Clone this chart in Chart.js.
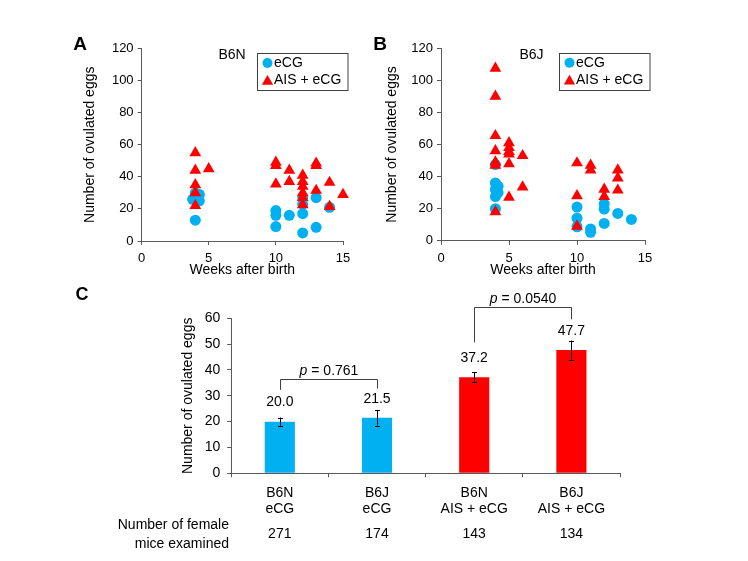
<!DOCTYPE html>
<html><head><meta charset="utf-8">
<script src="https://cdn.jsdelivr.net/npm/chart.js@4.4.1/dist/chart.umd.min.js"></script>
<style>
html,body{margin:0;padding:0;background:#fff;}
#wrap{position:relative;width:748px;height:561px;overflow:hidden;background:#fff;}
canvas{position:absolute;left:0;top:0;}
</style></head><body>
<div id="wrap">
<canvas id="cA" width="748" height="561"></canvas>
<canvas id="cB" width="748" height="561"></canvas>
<canvas id="cC" width="748" height="561"></canvas>
</div>
<script>
// ---------- data ----------
const seriesNames = ['eCG', 'AIS + eCG'];
const xTitleScatter = 'Weeks after birth';
const yTitle = 'Number of ovulated eggs';
const panelLetters = ['A', 'B', 'C'];
const strainNames = ['B6N', 'B6J'];

// Panel A (B6N)
const b6nEcgWeeks = [4, 4.3, 3.8, 4.3, 4, 4, 10, 10, 10, 11, 12, 12, 12, 12, 13, 13, 14];
const b6nEcgEggs  = [30, 29, 26, 25, 27, 13, 19, 16, 9, 16, 27, 23, 17, 5, 27, 8.5, 21];
const b6nAisWeeks = [4, 4, 4, 4, 4, 5, 10, 10, 10, 11, 11, 12, 12, 12, 12, 12, 12, 13, 13, 13, 14, 14, 15];
const b6nAisEggs  = [55, 44, 35, 30, 22, 45, 49, 47, 35.5, 44, 37, 41, 37, 34, 30, 27, 22.5, 48.5, 47, 31.5, 36.5, 21.5, 29];

// Panel B (B6J)
const b6jEcgWeeks = [4, 4, 4.2, 4, 4.2, 4, 4, 10, 10, 10, 11, 11, 12, 12, 12, 13, 14];
const b6jEcgEggs  = [47.5, 36, 34, 32, 30, 27.5, 20, 21, 14, 8.7, 7.3, 5.2, 23, 19.7, 10.8, 17, 13.3];
const b6jAisWeeks = [4, 4, 4, 4, 4, 4, 4, 5, 5, 5, 5, 5, 5, 6, 6, 10, 10, 10, 11, 11, 12, 12, 13, 13, 13];
const b6jAisEggs  = [107.5, 90, 65.5, 56, 49, 47, 18, 61, 58, 55.5, 54, 48, 27, 53, 33.5, 48.5, 28, 9, 47, 44, 32, 27.5, 44, 39, 31.5];

// Panel C
const groupLabels = [['B6N', 'eCG'], ['B6J', 'eCG'], ['B6N', 'AIS + eCG'], ['B6J', 'AIS + eCG']];
const meanEggs = [20.0, 21.5, 37.2, 47.7];
const semEggs = [1.6, 3.0, 2.0, 3.7];
const miceCounts = [271, 174, 143, 134];
const miceRowLabel = ['Number of female', 'mice examined'];
const pValues = ['0.761', '0.0540'];
const pPairs = [[0, 1], [2, 3]];
const pLevels = [36.5, 64.3];
const pDrops = [[32.3, 32.8], [50.7, 59.6]];

// ---------- styles ----------
const FONT = "'Liberation Sans', Arial, Helvetica, sans-serif";
const AXIS = '#595959';
const BLUE = '#00B0F0';
const RED = '#FF0000';
const barColors = [BLUE, BLUE, RED, RED];

function pts(xs, ys) { return xs.map((x, i) => ({ x: x, y: ys[i] })); }

function drawMarker(ctx, style, x, y, r, color) {
  ctx.save();
  ctx.fillStyle = color;
  ctx.beginPath();
  if (style === 'circle') {
    ctx.arc(x, y, r, 0, Math.PI * 2);
  } else {
    ctx.moveTo(x, y - r);
    ctx.lineTo(x + r * 0.866, y + r * 0.5);
    ctx.lineTo(x - r * 0.866, y + r * 0.5);
    ctx.closePath();
  }
  ctx.fill();
  ctx.restore();
}

function scatterOverlay(letter, subtitle, letterPos) {
  return {
    id: 'overlay' + letter,
    afterDraw(chart) {
      const ctx = chart.ctx;
      const a = chart.chartArea;
      ctx.save();
      ctx.fillStyle = '#000';
      ctx.textBaseline = 'middle';
      ctx.textAlign = 'center';
      ctx.font = 'bold 19px ' + FONT;
      ctx.fillText(letter, letterPos[0], letterPos[1]);
      ctx.font = '14px ' + FONT;
      ctx.fillText(subtitle, a.left + 90.5, a.top + 6.5);
      // legend
      const bx = a.right - 86, by = a.top + 4.5, bw = 90.5, bh = 37;
      ctx.strokeStyle = '#404040';
      ctx.lineWidth = 1;
      ctx.strokeRect(Math.round(bx) + 0.5, Math.round(by) + 0.5, bw, bh);
      const ds = chart.data.datasets;
      ds.forEach((d, i) => {
        const ry = by + 10 + i * 17.4;
        drawMarker(ctx, d.pointStyle, bx + 10.5, ry + (d.pointStyle === 'triangle' ? 1 : 0), d.pointStyle === 'circle' ? 5 : 6.5, d.backgroundColor);
        ctx.fillStyle = '#000';
        ctx.textAlign = 'left';
        ctx.font = '14px ' + FONT;
        ctx.fillText(d.label, bx + 17, ry);
      });
      ctx.restore();
    }
  };
}

function scatterConfig(o) {
  return {
    type: 'scatter',
    data: {
      datasets: [
        { label: seriesNames[0], data: pts(o.ecgW, o.ecgE), pointStyle: 'circle', pointRadius: 5.5,
          backgroundColor: BLUE, borderWidth: 0, order: 1, clip: false },
        { label: seriesNames[1], data: pts(o.aisW, o.aisE), pointStyle: 'triangle', pointRadius: 6.8,
          backgroundColor: RED, borderWidth: 0, order: 0, clip: false }
      ]
    },
    options: {
      responsive: false, animation: false, devicePixelRatio: 1, events: [],
      layout: { padding: o.padding },
      plugins: { legend: { display: false }, tooltip: { enabled: false } },
      scales: {
        x: {
          type: 'linear', min: 0, max: 15,
          ticks: { stepSize: 5, color: '#000', font: { family: FONT, size: 13 }, padding: 6 },
          grid: { display: true, drawOnChartArea: false, drawTicks: true, tickLength: 4, color: AXIS },
          border: { display: true, color: AXIS, width: 1 },
          title: { display: true, text: xTitleScatter, color: '#000', font: { family: FONT, size: 14 }, padding: 0 },
          afterFit: s => { s.height = 38; }
        },
        y: {
          min: 0, max: 120,
          ticks: { stepSize: 20, color: '#000', font: { family: FONT, size: 13 }, padding: 4 },
          grid: { display: true, drawOnChartArea: false, drawTicks: true, tickLength: 4, color: AXIS },
          border: { display: true, color: AXIS, width: 1 },
          title: { display: true, text: yTitle, color: '#000', font: { family: FONT, size: 14 }, padding: 0 },
          afterFit: s => { s.width = o.yWidth; }
        }
      }
    },
    plugins: [scatterOverlay(o.letter, o.subtitle, o.letterPos)]
  };
}

new Chart(document.getElementById('cA'), scatterConfig({
  ecgW: b6nEcgWeeks, ecgE: b6nEcgEggs, aisW: b6nAisWeeks, aisE: b6nAisEggs,
  padding: { left: 81.6, right: 405, top: 48.5, bottom: 282 }, yWidth: 60,
  letter: panelLetters[0], subtitle: strainNames[0], letterPos: [80, 45]
}));

new Chart(document.getElementById('cB'), scatterConfig({
  ecgW: b6jEcgWeeks, ecgE: b6jEcgEggs, aisW: b6jAisWeeks, aisE: b6jAisEggs,
  padding: { left: 383.6, right: 103, top: 48.3, bottom: 282.3 }, yWidth: 57.4,
  letter: panelLetters[1], subtitle: strainNames[1], letterPos: [380, 45]
}));

// ---------- Panel C ----------
const barOverlay = {
  id: 'barOverlay',
  afterDraw(chart) {
    const ctx = chart.ctx;
    const y = chart.scales.y;
    const meta = chart.getDatasetMeta(0);
    ctx.save();
    // error bars
    ctx.strokeStyle = '#000';
    ctx.lineWidth = 1;
    meta.data.forEach((bar, i) => {
      const x = Math.round(bar.x) + 0.5;
      const yt = y.getPixelForValue(meanEggs[i] + semEggs[i]);
      const yb = y.getPixelForValue(meanEggs[i] - semEggs[i]);
      ctx.beginPath();
      ctx.moveTo(x, yt); ctx.lineTo(x, yb);
      ctx.moveTo(x - 2.5, Math.round(yt) + 0.5); ctx.lineTo(x + 2.5, Math.round(yt) + 0.5);
      ctx.moveTo(x - 2.5, Math.round(yb) + 0.5); ctx.lineTo(x + 2.5, Math.round(yb) + 0.5);
      ctx.stroke();
    });
    // value labels
    ctx.fillStyle = '#000';
    ctx.font = '14px ' + FONT;
    ctx.textAlign = 'center';
    ctx.textBaseline = 'middle';
    meta.data.forEach((bar, i) => {
      ctx.fillText(meanEggs[i].toFixed(1), bar.x, y.getPixelForValue(meanEggs[i]) - 19);
    });
    // p-value brackets
    ctx.strokeStyle = '#404040';
    pPairs.forEach((pair, k) => {
      const x1 = Math.round(meta.data[pair[0]].x) + 0.5;
      const x2 = Math.round(meta.data[pair[1]].x) + 0.5;
      const yl = Math.round(y.getPixelForValue(pLevels[k])) + 0.5;
      ctx.beginPath();
      ctx.moveTo(x1, y.getPixelForValue(pDrops[k][0]));
      ctx.lineTo(x1, yl);
      ctx.lineTo(x2, yl);
      ctx.lineTo(x2, y.getPixelForValue(pDrops[k][1]));
      ctx.stroke();
      const rest = ' = ' + pValues[k];
      ctx.font = 'italic 14px ' + FONT;
      const wp = ctx.measureText('p').width;
      ctx.font = '14px ' + FONT;
      const wr = ctx.measureText(rest).width;
      const sx = (x1 + x2) / 2 - (wp + wr) / 2;
      const ty = yl - 8.5;
      ctx.textAlign = 'left';
      ctx.font = 'italic 14px ' + FONT;
      ctx.fillText('p', sx, ty);
      ctx.font = '14px ' + FONT;
      ctx.fillText(rest, sx + wp, ty);
    });
    // mice counts row
    ctx.textAlign = 'right';
    ctx.fillText(miceRowLabel[0], 229, 525);
    ctx.fillText(miceRowLabel[1], 229, 544.5);
    ctx.textAlign = 'center';
    meta.data.forEach((bar, i) => {
      ctx.fillText(String(miceCounts[i]), bar.x, 534.5);
    });
    // panel letter
    ctx.font = 'bold 18px ' + FONT;
    ctx.fillText(panelLetters[2], 82, 295.5);
    ctx.restore();
  }
};

new Chart(document.getElementById('cC'), {
  type: 'bar',
  data: {
    labels: groupLabels,
    datasets: [{ data: meanEggs, backgroundColor: barColors, borderWidth: 0,
                 barPercentage: 0.31, categoryPercentage: 1 }]
  },
  options: {
    responsive: false, animation: false, devicePixelRatio: 1, events: [],
    layout: { padding: { left: 179.4, right: 128, top: 318.3, bottom: 37.7 } },
    plugins: { legend: { display: false }, tooltip: { enabled: false } },
    scales: {
      x: {
        ticks: { color: '#000', font: { family: FONT, size: 14, lineHeight: 16 / 14 }, padding: 8 },
        grid: { display: true, drawOnChartArea: false, drawTicks: true, tickLength: 4, color: AXIS },
        border: { display: true, color: AXIS, width: 1 },
        afterFit: s => { s.height = 50; }
      },
      y: {
        min: 0, max: 60,
        ticks: { stepSize: 10, color: '#000', font: { family: FONT, size: 14 }, padding: 7 },
        grid: { display: true, drawOnChartArea: false, drawTicks: true, tickLength: 4, color: AXIS },
        border: { display: true, color: AXIS, width: 1 },
        title: { display: true, text: yTitle, color: '#000', font: { family: FONT, size: 14 }, padding: 0 },
        afterFit: s => { s.width = 51.8; }
      }
    }
  },
  plugins: [barOverlay]
});
</script>
</body></html>
